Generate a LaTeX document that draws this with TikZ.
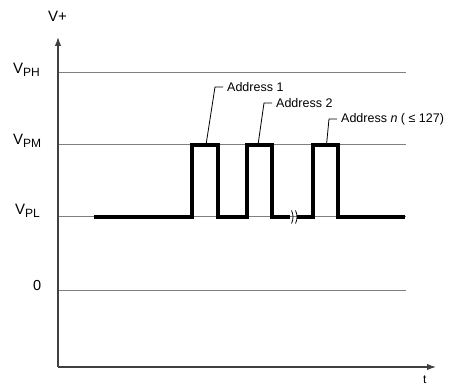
\documentclass[tikz,border=0pt]{standalone}
\usepackage{fontspec}
\setmainfont{Liberation Sans}
\usetikzlibrary{arrows.meta}
\newcommand{\vlab}[1]{{\fontsize{15}{15}\selectfont V}\raisebox{-2.5pt}{\fontsize{12}{12}\selectfont #1}}
\begin{document}
\begin{tikzpicture}[x=1pt,y=-1pt,
  level/.style={draw=black!50,line width=1pt},
  axis/.style={draw=black!75,line width=1.3pt},
  wave/.style={draw=black,line width=3.8pt,line join=miter,line cap=butt},
  leader/.style={draw=black,line width=0.8pt},
  addr/.style={anchor=west,inner sep=4pt,font=\fontsize{12.5}{12.5}\selectfont},
  vl/.style={anchor=base west,inner sep=0pt},
  brk/.style={draw=black,line width=0.8pt}]
\useasboundingbox (0,0) rectangle (453,387);
% levels
\coordinate (o) at (58,367);
\coordinate (ytip) at (58,37);
\coordinate (xtip) at (436,367);
\draw[level] (58,73) -- (406,73);
\draw[level] (58,145) -- (406,145);
\draw[level] (58,217) -- (406,217);
\draw[level] (58,291) -- (406,291);
% axes
\draw[axis,-{Latex[length=9pt,width=6.5pt]}] (o) -- (ytip);
\draw[axis,-{Latex[length=9pt,width=6.5pt]}] (o) -- (xtip);
% labels
\node[vl] (vplus) at (48,22) {\fontsize{15}{15}\selectfont V+};
\node[vl] (vph) at (13,74) {\vlab{PH}};
\node[vl] (vpm) at (13,145) {\vlab{PM}};
\node[vl] (vpl) at (15,215) {\vlab{PL}};
\node[vl] (zero) at (33,291) {\fontsize{14.5}{14.5}\selectfont 0};
\node[vl] (tlab) at (423,384) {\fontsize{12}{12}\selectfont t};
% waveform
\draw[wave] (94,217) -- (192,217) -- (192,145) -- (218,145) -- (218,217) -- (247,217) -- (247,145) -- (272,145) -- (272,217) -- (290,217);
\draw[wave] (297,217) -- (313,217) -- (313,145) -- (338,145) -- (338,217) -- (405,217);
% break marks
\draw[brk] (291.5,210.5) .. controls (293.5,214.5) and (293.5,219.5) .. (291.5,223.5);
\draw[brk] (295.5,210.5) .. controls (297.5,214.5) and (297.5,219.5) .. (295.5,223.5);
% address labels
\node[addr] (a1) at (223,87) {Address 1};
\node[addr] (a2) at (272,103) {Address 2};
\node[addr] (an) at (337,119) {Address \textit{n} ( ≤ 127)};
\coordinate (p1) at (206,145);
\coordinate (p2) at (258,145);
\coordinate (pn) at (326.5,145);
\draw[leader] (p1) -- (215,87) -- (a1.west);
\draw[leader] (p2) -- (264,103) -- (a2.west);
\draw[leader] (pn) -- (329,119) -- (an.west);
\end{tikzpicture}
\end{document}
